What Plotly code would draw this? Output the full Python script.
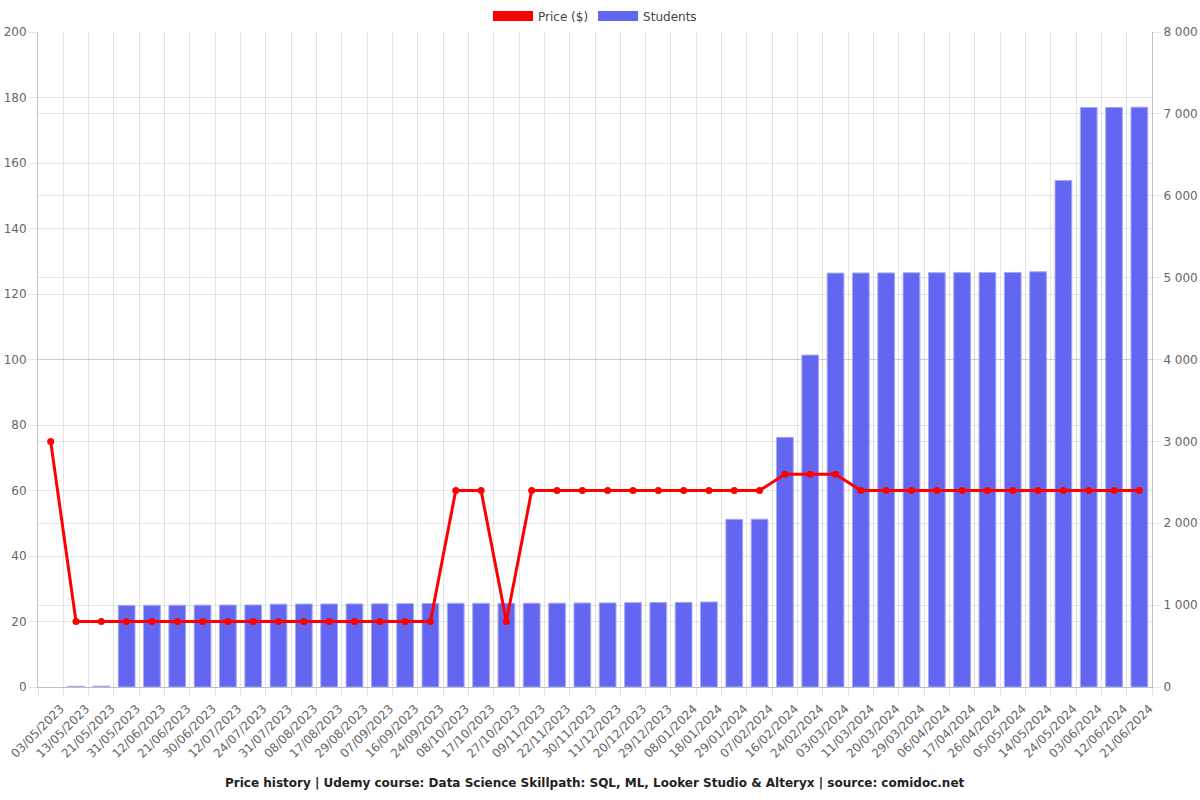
import plotly.graph_objects as go

dates = ["03/05/2023", "13/05/2023", "21/05/2023", "31/05/2023", "12/06/2023", "21/06/2023",
         "30/06/2023", "12/07/2023", "24/07/2023", "31/07/2023", "08/08/2023", "17/08/2023",
         "29/08/2023", "07/09/2023", "16/09/2023", "24/09/2023", "08/10/2023", "17/10/2023",
         "27/10/2023", "09/11/2023", "22/11/2023", "30/11/2023", "11/12/2023", "20/12/2023",
         "29/12/2023", "08/01/2024", "18/01/2024", "29/01/2024", "07/02/2024", "16/02/2024",
         "24/02/2024", "03/03/2024", "11/03/2024", "20/03/2024", "29/03/2024", "06/04/2024",
         "17/04/2024", "26/04/2024", "05/05/2024", "14/05/2024", "24/05/2024", "03/06/2024",
         "12/06/2024", "21/06/2024"]

price = [75, 20, 20, 20, 20, 20, 20, 20, 20, 20, 20, 20, 20, 20, 20, 20, 60, 60, 20, 60,
         60, 60, 60, 60, 60, 60, 60, 60, 60, 65, 65, 65, 60, 60, 60, 60, 60, 60, 60, 60,
         60, 60, 60, 60]

students = [None, 8, 10, 997, 998, 999, 1000, 1001, 1002, 1012, 1013, 1014, 1015, 1016, 1018,
            1019, 1022, 1022, 1023, 1023, 1024, 1026, 1027, 1030, 1032, 1034, 1038, 2048,
            2050, 3049, 4054, 5055, 5057, 5058, 5059, 5060, 5061, 5062, 5063, 5071, 6187,
            7078, 7079, 7082]

title_text = ("Price history | Udemy course: Data Science Skillpath: SQL, ML, Looker Studio "
              "& Alteryx | source: comidoc.net")

RED = "#ff0000"
BLUE = "rgb(99,102,241)"
BLUE_EDGE = "rgba(165,167,248,1)"
GRID = "rgba(0,0,0,0.1)"
AXLINE = "rgba(0,0,0,0.25)"
FONT = "DejaVu Sans"

fig = go.Figure()

# legend-only swatches (wide rectangles, as in the reference legend)
fig.add_trace(go.Scatter(x=[None], y=[None], name="Price ($)", yaxis="y2", mode="lines",
                         line=dict(color=RED, width=13)))
fig.add_trace(go.Scatter(x=[None], y=[None], name="Students", yaxis="y2", mode="lines",
                         line=dict(color=BLUE, width=13)))

# students bars on the right-hand axis (base axis, drawn underneath)
fig.add_trace(go.Bar(
    x=dates, y=students, name="Students", yaxis="y",
    marker=dict(color=BLUE, line=dict(color=BLUE_EDGE, width=1)),
    showlegend=False,
))

# price line on the left-hand axis (overlaying, drawn on top)
fig.add_trace(go.Scatter(
    x=dates, y=price, name="Price ($)", mode="lines+markers", yaxis="y2",
    line=dict(color=RED, width=3), marker=dict(color=RED, size=7),
    showlegend=False,
))

fig.update_layout(
    width=1200, height=800,
    margin=dict(l=38, r=48, t=32, b=113),
    paper_bgcolor="white", plot_bgcolor="white",
    font=dict(family=FONT, size=12, color="#666"),
    bargap=0.34,
    barmode="overlay",
    separators=". ",
    xaxis=dict(
        type="category", categoryorder="array", categoryarray=dates,
        range=[-0.5, len(dates) - 0.5],
        tickson="boundaries", ticks="outside", ticklen=8, tickcolor=GRID,
        showgrid=True, gridcolor=GRID, tickangle=-45,
        ticklabelshift=10, ticklabelstandoff=9,
        showline=True, linecolor=AXLINE, automargin=False,
        tickfont=dict(size=12, color="#666"),
    ),
    yaxis=dict(
        range=[0, 8000], dtick=1000, side="right",
        showgrid=True, gridcolor=GRID, tickformat=",",
        ticks="outside", ticklen=8, tickcolor=GRID,
        showline=True, linecolor=AXLINE, zeroline=False, automargin=False,
        tickfont=dict(size=12, color="#666"),
    ),
    yaxis2=dict(
        range=[0, 200], dtick=20, side="left", overlaying="y",
        showgrid=True, gridcolor=GRID,
        ticks="outside", ticklen=8, tickcolor=GRID,
        showline=True, linecolor=AXLINE, zeroline=False, automargin=False,
        tickfont=dict(size=12, color="#666"),
    ),
    legend=dict(
        orientation="h", x=0.5, xanchor="center",
        yref="container", y=1 - 16 / 800, yanchor="middle",
        font=dict(size=12, color="#444"), traceorder="normal",
        itemwidth=40,
    ),
    annotations=[dict(
        text="<b>" + title_text + "</b>", xref="paper", yref="paper",
        x=0.5, y=-0.1466, xanchor="center", yanchor="middle", showarrow=False,
        font=dict(family=FONT, size=12, color="#222"),
    )],
)

fig.write_html("out.html")
